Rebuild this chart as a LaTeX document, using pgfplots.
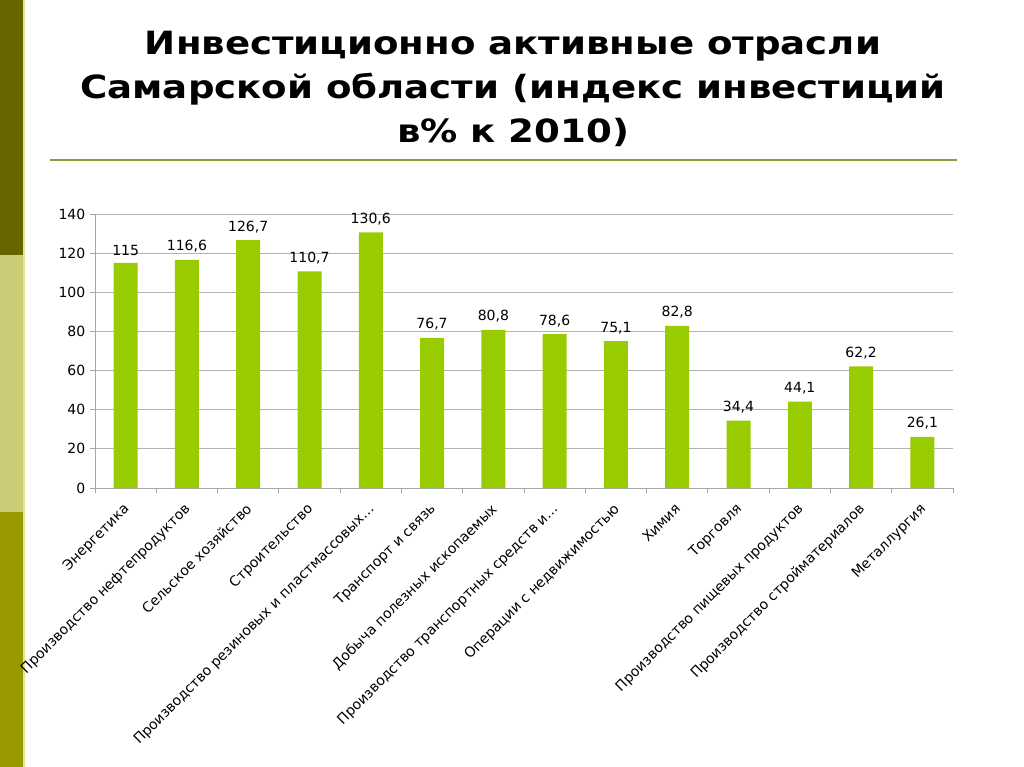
\documentclass[border=0pt]{standalone}
\usepackage{fontspec}
\setmainfont{DejaVu Sans}
\usepackage{pgfplots}
\pgfplotsset{compat=1.18}
\definecolor{stripA}{HTML}{666600}
\definecolor{stripB}{HTML}{CCCC77}
\definecolor{stripC}{HTML}{999900}
\definecolor{stripLine}{HTML}{E6E690}
\definecolor{ruleC}{HTML}{8C9E3C}
\definecolor{barC}{HTML}{99CC00}
\begin{document}
\begin{tikzpicture}
\path[use as bounding box] (0,0) rectangle (1024*0.75pt,-767*0.75pt);
\fill[stripA] (0,0) rectangle (23*0.75pt,-255*0.75pt);
\fill[stripB] (0,-255*0.75pt) rectangle (23*0.75pt,-512*0.75pt);
\fill[stripC] (0,-512*0.75pt) rectangle (23*0.75pt,-767*0.75pt);
\fill[stripLine] (23*0.75pt,0) rectangle (25*0.75pt,-767*0.75pt);
\draw[ruleC, line width=1.6pt] (50*0.75pt,-160*0.75pt) -- (957*0.75pt,-160*0.75pt);
\node[font=\fontsize{24}{33}\selectfont\bfseries, align=center, xscale=1.16, transform shape] at (513*0.75pt,-89*0.75pt)
  {Инвестиционно активные отрасли\\Самарской области (индекс инвестиций\\в\% к 2010)};
\begin{axis}[
  at={(95*0.75pt,-488*0.75pt)}, anchor=south west,
  scale only axis, width=858*0.75pt, height=274*0.75pt,
  xmin=-0.5, xmax=13.5, ymin=0, ymax=140,
  ytick={0,20,...,140},
  ymajorgrids, grid style={gray!60, line width=0.6pt},
  axis x line*=bottom, axis y line*=left,
  axis line style={gray!70, line width=0.6pt},
  tick style={gray!70, line width=0.6pt},
  tick align=outside,
  major tick length=5*0.75pt,
  xtick=data,
  x tick style={draw=none},
  minor xtick={-0.5,0.5,...,13.5},
  minor x tick style={draw=gray!70},
  minor tick length=5*0.75pt,
  xticklabels={Энергетика, Производство нефтепродуктов, Сельское хозяйство, Строительство, {Производство резиновых и пластмассовых\ldots}, Транспорт и связь, Добыча полезных ископаемых, {Производство транспортных средств и\ldots}, Операции с недвижимостью, Химия, Торговля, Производство пищевых продуктов, Производство стройматериалов, Металлургия},
  xticklabel style={xshift=-2.5pt, yshift=-4pt, rotate=45, anchor=north east, font=\fontsize{10.5}{12}\selectfont, inner sep=2pt},
  yticklabel style={font=\fontsize{10.5}{12}\selectfont},
  /pgf/number format/assume math mode=true,
  ybar, bar width=24*0.75pt,
  nodes near coords,
  nodes near coords style={font=\fontsize{10.5}{12}\selectfont, /pgf/number format/use comma, /pgf/number format/fixed, /pgf/number format/precision=1, yshift=2pt},
]
\addplot[fill=barC, draw=none] coordinates {
(0,115) (1,116.6) (2,126.7) (3,110.7) (4,130.6) (5,76.7) (6,80.8) (7,78.6) (8,75.1) (9,82.8) (10,34.4) (11,44.1) (12,62.2) (13,26.1)
};
\end{axis}
\end{tikzpicture}
\end{document}
